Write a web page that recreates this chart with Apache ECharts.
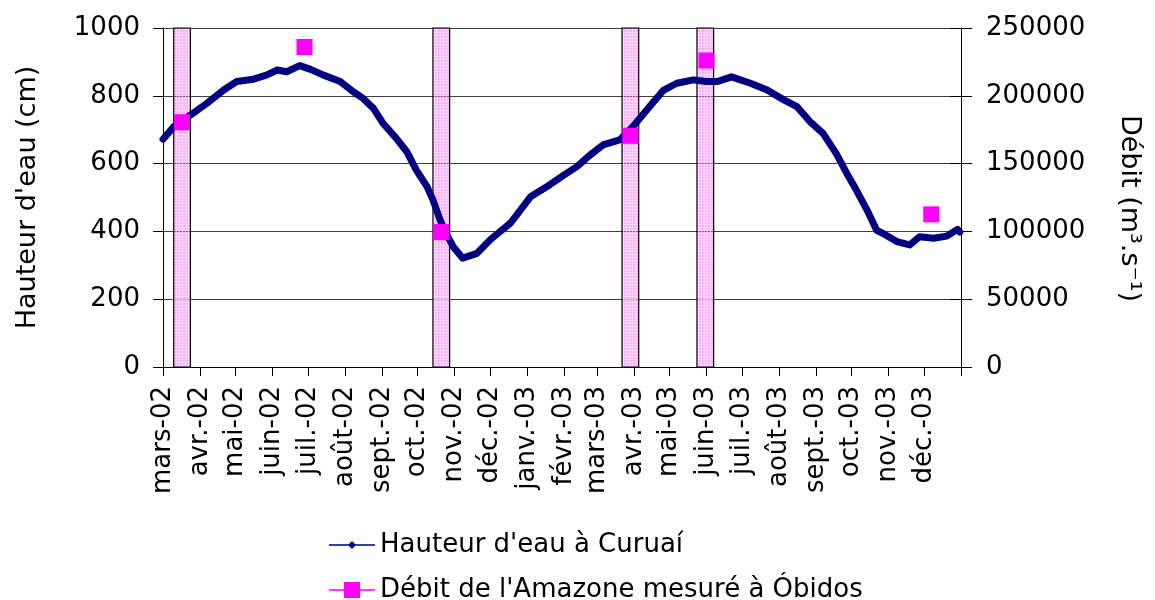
<!DOCTYPE html>
<html>
<head>
<meta charset="utf-8">
<script src="https://cdn.jsdelivr.net/npm/echarts@6/dist/echarts.min.js"></script>
<style>
body { margin: 0; background: #fff; }
#chart { width: 1155px; height: 600px; }
</style>
</head>
<body>
<div id="chart"></div>
<script>
// étiquettes de l'axe des dates (un mois par graduation)
var monthLabels = ['mars-02', 'avr.-02', 'mai-02', 'juin-02', 'juil.-02', 'août-02',
    'sept.-02', 'oct.-02', 'nov.-02', 'déc.-02', 'janv.-03', 'févr.-03', 'mars-03',
    'avr.-03', 'mai-03', 'juin-03', 'juil.-03', 'août-03', 'sept.-03', 'oct.-03',
    'nov.-03', 'déc.-03'];

// hauteur d'eau à Curuaí (cm)
var hauteurDates = ['2002-03-01', '2002-03-10', '2002-03-24', '2002-04-07', '2002-04-21',
    '2002-05-02', '2002-05-16', '2002-05-27', '2002-06-05', '2002-06-13', '2002-06-24',
    '2002-07-03', '2002-07-14', '2002-07-28', '2002-08-08', '2002-08-16', '2002-08-25',
    '2002-09-02', '2002-09-13', '2002-09-22', '2002-09-30', '2002-10-09', '2002-10-14',
    '2002-10-20', '2002-10-25', '2002-10-31', '2002-11-08', '2002-11-20', '2002-12-01',
    '2002-12-18', '2003-01-04', '2003-01-20', '2003-02-01', '2003-02-12', '2003-02-23',
    '2003-03-06', '2003-03-20', '2003-03-31', '2003-04-14', '2003-04-26', '2003-05-07',
    '2003-05-21', '2003-06-01', '2003-06-10', '2003-06-22', '2003-07-08', '2003-07-22',
    '2003-08-05', '2003-08-16', '2003-08-27', '2003-09-07', '2003-09-18', '2003-09-27',
    '2003-10-05', '2003-10-14', '2003-10-22', '2003-10-30', '2003-11-08', '2003-11-19',
    '2003-11-27', '2003-12-09', '2003-12-20', '2003-12-29', '2003-12-31'];
var hauteurValues = [672, 709, 743, 778, 817,
    842, 849, 861, 876, 871, 889,
    878, 861, 842, 812, 793, 763,
    719, 675, 635, 581, 532, 493,
    434, 394, 355, 321, 335, 375,
    424, 502, 537, 566, 591, 625,
    655, 670, 709, 768, 817, 837,
    847, 842, 842, 856, 837, 817,
    788, 768, 724, 689, 630, 571,
    522, 463, 404, 389, 370, 360,
    384, 380, 386, 406, 398];

// débit de l'Amazone mesuré à Óbidos (m3/s)
var debitDates = ['2002-03-17', '2002-06-28', '2002-10-21', '2003-03-29', '2003-06-01', '2003-12-07'];
var debitValues = [180500, 236000, 99500, 170500, 226000, 112600];

// périodes des campagnes (bandes roses)
var campagneDebut = ['2002-03-10', '2002-10-14', '2003-03-22', '2003-05-24'];
var campagneFin = ['2002-03-24', '2002-10-28', '2003-04-05', '2003-06-07'];

var police = 'DejaVu Sans';

function toTime(s) {
    var p = s.split('-');
    return new Date(+p[0], +p[1] - 1, +p[2]).getTime();
}

function hachure() {
    var c = document.createElement('canvas');
    c.width = 3;
    c.height = 3;
    var ctx = c.getContext('2d');
    ctx.fillStyle = 'rgba(255,90,255,0.5)';
    ctx.fillRect(0, 0, 3, 3);
    ctx.fillStyle = 'rgba(255,255,255,0.55)';
    ctx.fillRect(2, 0, 1, 3);
    ctx.fillRect(0, 2, 2, 1);
    return c;
}

var tickValues = [];
for (var i = 0; i <= monthLabels.length; i++) {
    tickValues.push(new Date(2002, 2 + i, 1).getTime());
}
var labelValues = tickValues.slice(0, monthLabels.length);

var hauteurData = [];
for (var i = 0; i < hauteurDates.length; i++) {
    hauteurData.push([toTime(hauteurDates[i]), hauteurValues[i]]);
}
var debitData = [];
for (var i = 0; i < debitDates.length; i++) {
    debitData.push([toTime(debitDates[i]), debitValues[i]]);
}
var bandes = [];
for (var i = 0; i < campagneDebut.length; i++) {
    bandes.push([{xAxis: toTime(campagneDebut[i])}, {xAxis: toTime(campagneFin[i])}]);
}

function brut(v) {
    return String(v);
}

var myChart = echarts.init(document.getElementById('chart'));
var option = {
    animation: false,
    backgroundColor: '#fff',
    textStyle: {fontFamily: police, color: '#000'},
    grid: {left: 163, right: 194, top: 28, bottom: 233},
    legend: {
        orient: 'vertical',
        left: 329,
        top: 532,
        height: 100,
        padding: 0,
        itemWidth: 46,
        itemHeight: 16,
        itemGap: 19,
        textStyle: {fontFamily: police, fontSize: 26, color: '#000'},
        data: [{
            name: "Hauteur d'eau à Curuaí",
            icon: 'path://M0,7.3H46V8.7H0Z M23,4L27,8L23,12L19,8Z',
            itemStyle: {color: '#000080'}
        }, {
            name: "Débit de l'Amazone mesuré à Óbidos",
            icon: 'path://M0,7.3H46V8.7H0Z M15,0H31V16H15Z',
            itemStyle: {color: '#ff00ff'}
        }]
    },
    xAxis: {
        type: 'value',
        min: tickValues[0],
        max: tickValues[tickValues.length - 1],
        axisLine: {lineStyle: {color: '#000', width: 1}},
        axisTick: {show: true, customValues: tickValues, length: 9, lineStyle: {color: '#000'}},
        axisLabel: {
            customValues: labelValues,
            rotate: 90,
            margin: 19,
            fontSize: 26,
            fontFamily: police,
            color: '#000',
            formatter: function(value) {
                var d = new Date(value);
                var idx = (d.getFullYear() - 2002) * 12 + d.getMonth() - 2;
                return monthLabels[idx] || '';
            }
        },
        splitLine: {show: false}
    },
    yAxis: [{
        type: 'value',
        position: 'left',
        min: 0,
        max: 1000,
        interval: 200,
        name: "Hauteur d'eau (cm)",
        nameLocation: 'middle',
        nameGap: 122,
        nameTextStyle: {fontSize: 27, fontFamily: police, color: '#000'},
        axisLine: {show: true, lineStyle: {color: '#000'}},
        axisTick: {show: true, length: 10, lineStyle: {color: '#000'}},
        axisLabel: {fontSize: 26, fontFamily: police, color: '#000', margin: 23, formatter: brut},
        splitLine: {lineStyle: {color: '#404040', width: 1}}
    }, {
        type: 'value',
        position: 'right',
        min: 0,
        max: 250000,
        interval: 50000,
        name: 'Débit (m³.s⁻¹)',
        nameLocation: 'middle',
        nameRotate: -90,
        nameGap: 155,
        nameTextStyle: {fontSize: 27, fontFamily: police, color: '#000', padding: [0, 0, 0, 22]},
        axisLine: {show: true, lineStyle: {color: '#000'}},
        axisTick: {show: true, length: 11, lineStyle: {color: '#000'}},
        axisLabel: {fontSize: 26, fontFamily: police, color: '#000', margin: 25, formatter: brut},
        splitLine: {show: false}
    }, {
        // graduations intérieures de l'axe de droite (elles traversent l'axe)
        type: 'value',
        position: 'right',
        min: 0,
        max: 250000,
        interval: 50000,
        axisLine: {show: false},
        axisTick: {show: true, inside: true, length: 11, lineStyle: {color: '#000'}},
        axisLabel: {show: false},
        splitLine: {show: false}
    }],
    series: [{
        name: "Hauteur d'eau à Curuaí",
        type: 'line',
        yAxisIndex: 0,
        data: hauteurData,
        showSymbol: false,
        symbol: 'diamond',
        color: '#000080',
        lineStyle: {width: 7, color: '#000080', cap: 'round', join: 'round'},
        z: 2
    }, {
        name: "Débit de l'Amazone mesuré à Óbidos",
        type: 'scatter',
        yAxisIndex: 1,
        data: debitData,
        symbol: 'rect',
        symbolSize: 16,
        itemStyle: {color: '#ff00ff', opacity: 1},
        markArea: {
            silent: true,
            itemStyle: {
                color: {image: hachure(), repeat: 'repeat'},
                borderColor: '#000',
                borderWidth: 1.2
            },
            data: bandes
        },
        z: 3
    }]
};
myChart.setOption(option);
window.addEventListener('resize', function() {
    myChart.resize();
});
</script>
</body>
</html>
